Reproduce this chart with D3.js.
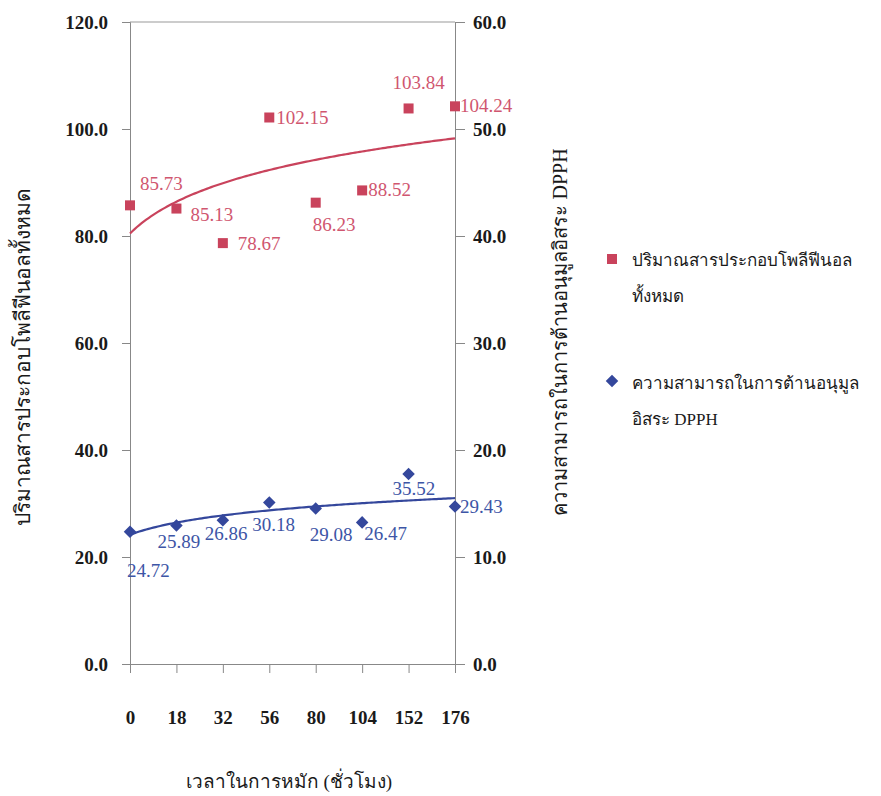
<!DOCTYPE html>
<html lang="th">
<head>
<meta charset="utf-8">
<title>Polyphenol and DPPH</title>
<script src="https://d3js.org/d3.v7.min.js"></script>
<style>
  body { margin: 0; background: #fff; }
  svg text { font-family: "Liberation Serif", "Times New Roman", "DejaVu Serif", serif; }
</style>
</head>
<body>
<script>
// categories (hours of fermentation)
var hours = ["0", "18", "32", "56", "80", "104", "152", "176"];
// total polyphenol content
var polyphenol = [85.73, 85.13, 78.67, 102.15, 86.23, 88.52, 103.84, 104.24];
// DPPH radical scavenging
var dpph = [24.72, 25.89, 26.86, 30.18, 29.08, 26.47, 35.52, 29.43];
var leftTicks = [0, 20, 40, 60, 80, 100, 120];
var rightTicks = [0, 10, 20, 30, 40, 50, 60];

// label offsets (dx, dy of baseline from point)
var redLabelPos = [[10, -15], [14, 12], [15, 7], [7, 7], [-3, 28], [6, 6], [-16, -19], [5, 6]];
var blueLabelPos = [[-3, 45], [-19, 23], [-18, 20], [-17, 28], [-6, 33], [2, 18], [-16, 21], [5, 6]];

function drawChart() {
  var w = 881, h = 796;
  var mLeft = 130, mRight = 455, mTop = 22, mBottom = 664;
  var red = "#c9435c", redText = "#d0566f";
  var blue = "#34479c", blueText = "#3d55a6";

  var svg = d3.select("body").append("svg")
    .attr("width", w).attr("height", h);

  var x = d3.scalePoint().domain(hours).range([mLeft, mRight]);
  var y = d3.scaleLinear().domain([0, 120]).range([mBottom, mTop]);
  var y2 = d3.scaleLinear().domain([0, 60]).range([mBottom, mTop]);

  // top border
  svg.append("line")
    .attr("x1", mLeft).attr("x2", mRight).attr("y1", mTop).attr("y2", mTop)
    .attr("stroke", "#999").attr("stroke-width", 1);

  // left axis
  var gl = svg.append("g").attr("transform", "translate(" + mLeft + ",0)")
    .call(d3.axisLeft(y).tickValues(leftTicks).tickSize(8).tickPadding(14).tickFormat(d3.format(".1f")));
  // right axis
  var gr = svg.append("g").attr("transform", "translate(" + mRight + ",0)")
    .call(d3.axisRight(y2).tickValues(rightTicks).tickSize(10).tickPadding(8).tickFormat(d3.format(".1f")));
  // bottom axis
  var gb = svg.append("g").attr("transform", "translate(0," + mBottom + ")")
    .call(d3.axisBottom(x).tickSize(9).tickPadding(38));

  [gl, gr, gb].forEach(function(g) {
    g.attr("font-family", null);
    g.select(".domain").attr("stroke", "#888");
    g.selectAll(".tick line").attr("stroke", "#888");
    g.selectAll("text").attr("font-size", 19).attr("fill", "#1a1a1a")
      .attr("font-weight", "bold");
  });

  // log trendline fit like the spreadsheet (x = 1..n)
  function logFit(vals) {
    var lx = vals.map(function(v, i) { return Math.log(i + 1); });
    var mx = d3.mean(lx), my = d3.mean(vals);
    var sxy = d3.sum(lx, function(v, i) { return (v - mx) * (vals[i] - my); });
    var sxx = d3.sum(lx, function(v) { return (v - mx) * (v - mx); });
    var a = sxy / sxx, b = my - a * mx;
    return function(t) { return a * Math.log(t) + b; };
  }

  function trend(vals, color) {
    var f = logFit(vals);
    var pts = d3.range(1, vals.length + 0.001, 0.05);
    var step = x.step();
    var line = d3.line()
      .x(function(t) { return mLeft + (t - 1) * step; })
      .y(function(t) { return y(f(t)); });
    svg.append("path").datum(pts)
      .attr("d", line).attr("fill", "none")
      .attr("stroke", color).attr("stroke-width", 2.2);
  }

  trend(polyphenol, red);
  trend(dpph, blue);

  // red squares
  svg.selectAll(".sq").data(polyphenol).enter().append("rect")
    .attr("x", function(d, i) { return x(hours[i]) - 5; })
    .attr("y", function(d) { return y(d) - 5; })
    .attr("width", 10).attr("height", 10)
    .attr("fill", red);

  svg.selectAll(".rl").data(polyphenol).enter().append("text")
    .attr("x", function(d, i) { return x(hours[i]) + redLabelPos[i][0]; })
    .attr("y", function(d, i) { return y(d) + redLabelPos[i][1]; })
    .attr("font-size", 19).attr("fill", redText)
    .text(function(d) { return d.toFixed(2); });

  // blue diamonds
  var diamond = d3.symbol().type(d3.symbolDiamond2).size(100);
  svg.selectAll(".dm").data(dpph).enter().append("path")
    .attr("d", diamond)
    .attr("transform", function(d, i) { return "translate(" + x(hours[i]) + "," + y(d) + ")"; })
    .attr("fill", blue);

  svg.selectAll(".bl").data(dpph).enter().append("text")
    .attr("x", function(d, i) { return x(hours[i]) + blueLabelPos[i][0]; })
    .attr("y", function(d, i) { return y(d) + blueLabelPos[i][1]; })
    .attr("font-size", 19).attr("fill", blueText)
    .text(function(d) { return d.toFixed(2); });

  // axis titles
  svg.append("text")
    .attr("transform", "translate(30,357) rotate(-90)")
    .attr("text-anchor", "middle").attr("font-size", 21).attr("fill", "#1a1a1a")
    .text("ปริมาณสารประกอบโพลีฟีนอลทั้งหมด");

  svg.append("text")
    .attr("transform", "translate(567,332) rotate(-90)")
    .attr("text-anchor", "middle").attr("font-size", 20).attr("fill", "#1a1a1a")
    .text("ความสามารถในการต้านอนุมูลอิสระ DPPH");

  svg.append("text")
    .attr("x", 289).attr("y", 788)
    .attr("text-anchor", "middle").attr("font-size", 19).attr("fill", "#1a1a1a")
    .text("เวลาในการหมัก (ชั่วโมง)");

  // legend
  svg.append("rect").attr("x", 607).attr("y", 254).attr("width", 10).attr("height", 10).attr("fill", red);
  svg.append("text").attr("x", 632).attr("y", 266).attr("font-size", 17).attr("fill", "#1a1a1a")
    .text("ปริมาณสารประกอบโพลีฟีนอล");
  svg.append("text").attr("x", 632).attr("y", 302).attr("font-size", 17).attr("fill", "#1a1a1a")
    .text("ทั้งหมด");

  svg.append("path").attr("d", diamond)
    .attr("transform", "translate(612,381)").attr("fill", blue);
  svg.append("text").attr("x", 632).attr("y", 389).attr("font-size", 17).attr("fill", "#1a1a1a")
    .text("ความสามารถในการต้านอนุมูล");
  svg.append("text").attr("x", 632).attr("y", 425).attr("font-size", 17).attr("fill", "#1a1a1a")
    .text("อิสระ DPPH");
}

drawChart();
</script>
</body>
</html>
